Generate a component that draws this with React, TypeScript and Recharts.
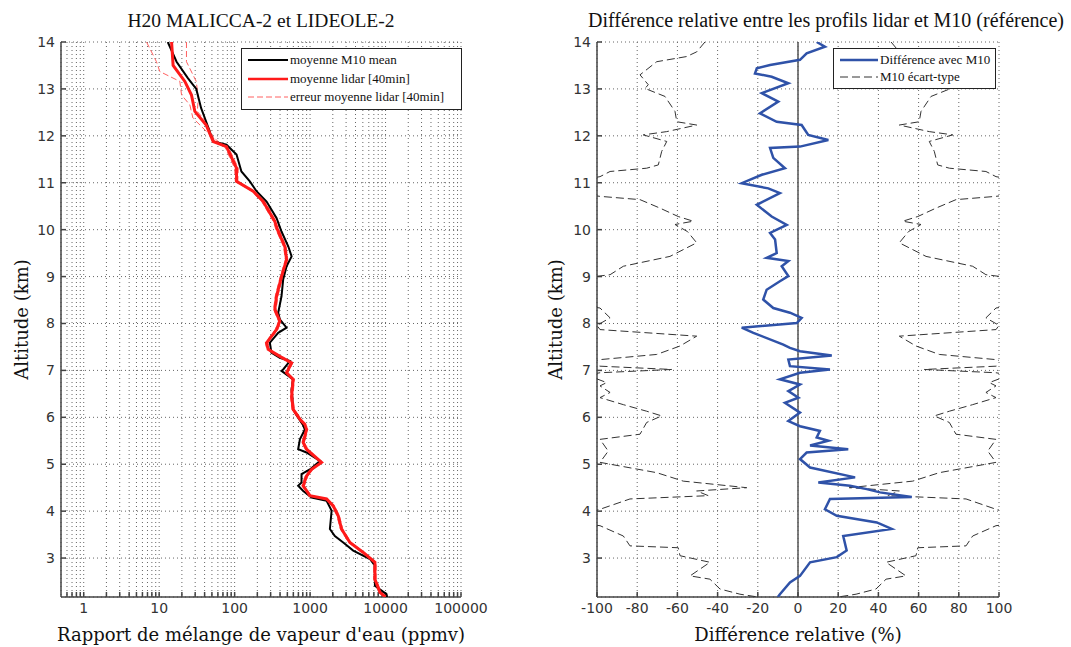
import React from 'react';
import { ScatterChart, Scatter, XAxis, YAxis, CartesianGrid, ReferenceLine, Legend } from 'recharts';

// [altitude km, value] pairs, read top to bottom off the figure
const m10Mean: [number, number][] = [
  [14.0, 13], [13.58, 17], [13.23, 24], [13.0, 31], [12.59, 36], [12.3, 42], [11.88, 52], [11.81, 78],
  [11.6, 106], [11.24, 123], [11.03, 159], [10.82, 195], [10.6, 265], [10.25, 359], [9.96, 418],
  [9.64, 515], [9.43, 569], [9.22, 488], [8.94, 440], [8.58, 418], [8.23, 378], [8.09, 397], [7.91, 488],
  [7.8, 378], [7.59, 293], [7.38, 307], [7.27, 397], [7.2, 540], [7.02, 440], [6.99, 418], [6.81, 597],
  [6.6, 569], [6.17, 597], [5.99, 695], [5.85, 800], [5.74, 853], [5.53, 733], [5.32, 695], [5.25, 897],
  [5.07, 1350], [4.89, 994], [4.79, 770], [4.61, 770], [4.54, 695], [4.43, 811], [4.29, 1048],
  [4.22, 1655], [4.01, 1930], [3.62, 1830], [3.47, 2130], [3.33, 2750], [3.16, 3730], [2.98, 6210],
  [2.84, 7230], [2.41, 7230], [2.23, 10300], [2.17, 10500],
];

const lidarMean: [number, number][] = [
  [14.0, 14.6], [13.5, 15.3], [13.16, 21.9], [12.87, 26.8], [12.52, 29.7], [12.23, 42], [11.88, 52],
  [11.77, 78], [11.31, 106], [11.03, 106], [10.82, 176], [10.6, 239], [10.18, 340], [10.0, 370],
  [9.64, 463], [9.36, 488], [9.0, 418], [8.58, 359], [8.3, 341], [8.05, 397], [7.87, 359], [7.59, 265],
  [7.45, 278], [7.3, 397], [7.16, 569], [6.95, 488], [6.81, 597], [6.45, 569], [6.17, 597], [5.96, 733],
  [5.85, 853], [5.74, 897], [5.46, 811], [5.32, 897], [5.04, 1419], [4.89, 1048], [4.75, 897],
  [4.54, 811], [4.33, 994], [4.26, 1655], [4.11, 2030], [3.9, 2360], [3.62, 2610], [3.33, 3370],
  [3.12, 5060], [2.91, 7230], [2.55, 7230], [2.27, 8430], [2.17, 10000],
];

const lidarErrLow: [number, number][] = [
  [14.0, 6.8], [13.58, 9.2], [13.37, 10.2], [13.16, 18.8], [12.87, 19.8], [12.66, 25.5], [12.38, 28],
  [12.02, 47], [11.77, 74], [11.31, 100], [11.03, 102], [10.82, 168], [10.6, 228], [10.18, 325],
  [10.0, 352], [9.64, 445], [9.36, 470], [9.0, 402], [8.58, 345], [8.3, 328], [8.05, 382], [7.87, 345],
  [7.59, 255], [7.45, 267], [7.3, 382], [7.16, 548], [6.95, 470], [6.81, 575], [6.45, 548], [6.17, 575],
  [5.96, 705], [5.74, 862], [5.46, 780], [5.32, 862], [5.04, 1365], [4.89, 1008], [4.75, 862],
  [4.54, 780], [4.33, 955], [4.26, 1590], [4.11, 1950], [3.9, 2270], [3.62, 2510], [3.33, 3240],
  [3.12, 4870], [2.91, 6950], [2.55, 6950], [2.27, 8110], [2.17, 9620],
];

const lidarErrHigh: [number, number][] = [
  [14.0, 23], [13.58, 23], [13.16, 31], [12.8, 33], [12.52, 32], [12.3, 42], [11.88, 55], [11.77, 82],
  [11.31, 112], [11.03, 110], [10.82, 184], [10.6, 250], [10.18, 374], [10.0, 388], [9.64, 482],
  [9.36, 507], [9.0, 435], [8.58, 374], [8.3, 355], [8.05, 413], [7.87, 374], [7.59, 276], [7.45, 289],
  [7.3, 413], [7.16, 592], [6.95, 507], [6.81, 620], [6.45, 592], [6.17, 620], [5.96, 762], [5.74, 932],
  [5.46, 843], [5.32, 932], [5.04, 1475], [4.89, 1090], [4.75, 932], [4.54, 843], [4.33, 1033],
  [4.26, 1720], [4.11, 2110], [3.9, 2450], [3.62, 2710], [3.33, 3500], [3.12, 5260], [2.91, 7510],
  [2.55, 7510], [2.27, 8760], [2.17, 10400],
];

// relative difference lidar vs M10 (%)
const diffM10: [number, number][] = [
  [14.0, 9.3], [13.9, 13.4], [13.76, 4.3], [13.62, 1.0], [13.51, -13.9], [13.44, -20.5], [13.33, -21.4],
  [13.26, -13.1], [13.12, -4.8], [12.91, -18], [12.73, -9.8], [12.48, -18.9], [12.3, -10.6], [12.23, 1.8],
  [12.02, 5.1], [11.91, 15.1], [11.77, 1.0], [11.74, -13.9], [11.53, -12.3], [11.31, -6.5], [11.17, -18],
  [10.99, -28], [10.88, -14.8], [10.78, -9.0], [10.53, -20.5], [10.28, -13.1], [10.1, -5.6], [9.93, -13.9],
  [9.79, -11.4], [9.5, -10.6], [9.4, -15.6], [9.33, -4.8], [9.22, -8.1], [9.01, -4.8], [8.9, -9.0],
  [8.72, -15.6], [8.51, -17.3], [8.33, -12.3], [8.23, -4.0], [8.12, 1.8], [8.01, -0.6], [7.91, -28],
  [7.8, -22.2], [7.55, -7.3], [7.48, -4.0], [7.41, 1.0], [7.32, 16.8], [7.23, -4.8], [7.09, -4.0],
  [7.02, 15.9], [6.95, 1.0], [6.81, -9.0], [6.7, 1.0], [6.56, -4.8], [6.42, 0.2], [6.31, -6.5], [6.1, 1.0],
  [5.92, -4.8], [5.81, 1.0], [5.71, 10.9], [5.57, 9.3], [5.5, 15.1], [5.4, 6.0], [5.32, 25], [5.25, 4.3],
  [5.11, 1.0], [4.93, 6.0], [4.72, 28.4], [4.61, 10.1], [4.54, 25.9], [4.47, 34.2], [4.4, 40.8],
  [4.3, 56.6], [4.26, 15.9], [4.04, 13.4], [3.9, 19.3], [3.76, 39.2], [3.62, 46.6], [3.47, 22.5],
  [3.16, 24.2], [3.02, 19.3], [2.91, 6.0], [2.62, 1.0], [2.48, -4.0], [2.23, -9.0], [2.17, -10],
];

// M10 standard deviation (%), drawn as +/- envelope
const m10Std: [number, number][] = [
  [14.0, 46.3], [13.79, 50.4], [13.69, 55.4], [13.58, 70.3], [13.3, 78.6], [13.09, 74.5], [13.01, 76.1],
  [12.84, 66.2], [12.52, 61.2], [12.3, 60.3], [12.23, 50.4], [12.09, 65.3], [12.02, 77], [11.88, 65.3],
  [11.67, 67.8], [11.38, 69.5], [11.31, 75.3], [11.24, 93.5], [11.13, 98.5], [11.0, 115], [10.8, 115],
  [10.71, 98.5], [10.64, 78.6], [10.46, 68.7], [10.28, 59.6], [10.18, 52.1], [10.11, 61.2], [9.96, 55],
  [9.72, 50.4], [9.43, 63.7], [9.22, 86.9], [9.04, 93.5], [8.95, 110], [8.4, 110], [8.33, 98.5],
  [8.12, 93.5], [7.96, 100], [7.87, 98.5], [7.73, 50.4], [7.52, 58.7], [7.34, 70.3], [7.23, 98.5],
  [7.15, 105], [7.09, 98.5], [7.02, 62.8], [6.95, 98.5], [6.9, 105], [6.74, 95.2], [6.67, 98.5],
  [6.53, 93.5], [6.42, 98.5], [6.27, 86.9], [6.13, 75.3], [6.03, 67.8], [5.89, 75.3], [5.64, 78.6],
  [5.53, 98.5], [5.28, 94.4], [5.04, 98.5], [4.82, 70.3], [4.64, 57.1], [4.5, 25.5], [4.43, 50.4],
  [4.33, 44.6], [4.26, 83.6], [4.04, 98.5], [3.9, 110], [3.75, 110], [3.69, 98.5], [3.47, 86.9],
  [3.26, 83.6], [3.22, 59.6], [3.05, 58.7], [2.91, 43.8], [2.62, 53.7], [2.55, 43.8], [2.34, 38.8],
  [2.23, 28.9], [2.17, 20],
];

const altTicks = [3, 4, 5, 6, 7, 8, 9, 10, 11, 12, 13, 14];
const decadeTicks = [1, 10, 100, 1000, 10000, 100000];
const minorSteps = [2, 3, 4, 5, 6, 7, 8, 9];
const diffTicks = [-100, -80, -60, -40, -20, 0, 20, 40, 60, 80, 100];

const ALT_DOMAIN: [number, number] = [2.17, 14];
const LOG_DOMAIN: [number, number] = [0.5, 100000];

const logTicks = [
  ...decadeTicks,
  ...[0.1, 1, 10, 100, 1000, 10000].flatMap((d) => minorSteps.map((m) => +(d * m).toPrecision(3))),
].filter((v) => v > LOG_DOMAIN[0] && v <= LOG_DOMAIN[1]).sort((a, b) => a - b);

const toPts = (arr: [number, number][], sign = 1) => arr.map(([alt, v]) => ({ alt, v: v * sign }));

const SERIF = '"Liberation Serif", "Times New Roman", serif';
const LABEL_SERIF = '"DejaVu Serif", serif';
const SANS = '"DejaVu Sans", sans-serif';
const AXIS = '#444';
const noDot = () => <g />;
const noTick = () => <g />;

const LogTick = (props: any) => {
  const { x, y, payload } = props;
  if (!decadeTicks.includes(payload.value)) return <g />;
  return (
    <text x={x} y={y} dy="0.71em" textAnchor="middle" fontFamily={SANS} fontSize={14} fill="#333">
      {payload.value}
    </text>
  );
};

const leftLegendItems = [
  { label: 'moyenne M10 mean', color: '#000', width: 2, dash: undefined },
  { label: 'moyenne lidar [40min]', color: '#ff1a1a', width: 2.5, dash: undefined },
  { label: 'erreur moyenne lidar [40min]', color: '#ff6060', width: 1, dash: '6 3' },
];
const rightLegendItems = [
  { label: 'Différence avec M10', color: '#2f52a8', width: 2.5, dash: undefined },
  { label: 'M10 écart-type', color: '#333', width: 1, dash: '8 4' },
];

const LegendBox = ({ items, sample, rowH }: { items: typeof leftLegendItems; sample: number; rowH: number }) => (
  <div style={{ border: '1px solid #222', background: '#fff', padding: '2px 4px 2px 6px', fontFamily: SERIF, fontSize: 13, color: '#111' }}>
    {items.map((it) => (
      <div key={it.label} style={{ display: 'flex', alignItems: 'center', height: rowH, whiteSpace: 'nowrap' }}>
        <svg width={sample} height={8} style={{ marginRight: 2 }}>
          <line x1={0} y1={4} x2={sample} y2={4} stroke={it.color} strokeWidth={it.width} strokeDasharray={it.dash} />
        </svg>
        <span>{it.label}</span>
      </div>
    ))}
  </div>
);

const gridProps = { stroke: '#666', strokeDasharray: '1 3' };
const tickStyle = { fontFamily: SANS, fontSize: 14, fill: '#333' };
const axisLabel = { fill: '#111', fontSize: 18, fontFamily: LABEL_SERIF };

const App: React.FC = () => {
  return (
    <div style={{ position: 'absolute', left: 0, top: 0, width: 1071, height: 647, background: '#fff' }}>
      <div style={{ position: 'absolute', left: 0, top: 0 }}>
        <ScatterChart width={535} height={647} margin={{ top: 42, right: 74, bottom: 0, left: 0 }}>
          <CartesianGrid {...gridProps} />
          <XAxis
            type="number" dataKey="v" scale="log" domain={LOG_DOMAIN} allowDataOverflow ticks={logTicks}
            height={50} tickSize={-5} tickMargin={11} tick={LogTick} stroke={AXIS} strokeWidth={1.5} interval={0}
            label={{ value: "Rapport de mélange de vapeur d'eau (ppmv)", position: 'insideBottom', offset: 6, ...axisLabel }}
          />
          <XAxis xAxisId="top" orientation="top" type="number" scale="log" domain={LOG_DOMAIN} allowDataOverflow
            ticks={logTicks} height={0} tickSize={-5} tick={noTick} stroke={AXIS} strokeWidth={1.5} interval={0} />
          <YAxis
            type="number" dataKey="alt" domain={ALT_DOMAIN} allowDataOverflow ticks={altTicks} width={61}
            tickSize={-5} tickMargin={11} tick={tickStyle} stroke={AXIS} strokeWidth={1.5} interval={0}
            label={{ value: 'Altitude (km)', angle: -90, position: 'insideLeft', offset: 22, ...axisLabel, style: { textAnchor: 'middle' } }}
          />
          <YAxis yAxisId="right" orientation="right" type="number" domain={ALT_DOMAIN} allowDataOverflow
            ticks={altTicks} width={0} tickSize={-5} tick={noTick} stroke={AXIS} strokeWidth={1.5} interval={0} />
          <Scatter data={toPts(lidarErrLow)} fill="#ff6060" shape={noDot} isAnimationActive={false}
            line={{ stroke: '#ff6060', strokeWidth: 1, strokeDasharray: '6 3' }} />
          <Scatter data={toPts(lidarErrHigh)} fill="#ff6060" shape={noDot} isAnimationActive={false}
            line={{ stroke: '#ff6060', strokeWidth: 1, strokeDasharray: '6 3' }} />
          <Scatter data={toPts(m10Mean)} fill="#000" shape={noDot} isAnimationActive={false}
            line={{ stroke: '#000', strokeWidth: 2 }} />
          <Scatter data={toPts(lidarMean)} fill="#ff1a1a" shape={noDot} isAnimationActive={false}
            line={{ stroke: '#ff1a1a', strokeWidth: 3 }} />
          <Legend layout="vertical" align="center" verticalAlign="middle"
            wrapperStyle={{ top: 48, left: 241, width: 221 }}
            content={() => <LegendBox items={leftLegendItems} sample={40} rowH={18.5} />} />
          <text x={261} y={27} textAnchor="middle" fontFamily={SERIF} fontSize={19.5} fill="#111">
            H20 MALICCA-2 et LIDEOLE-2
          </text>
        </ScatterChart>
      </div>

      <div style={{ position: 'absolute', left: 535, top: 0 }}>
        <ScatterChart width={536} height={647} margin={{ top: 42, right: 72, bottom: 0, left: 0 }}>
          <CartesianGrid {...gridProps} />
          <XAxis
            type="number" dataKey="v" domain={[-100, 100]} allowDataOverflow ticks={diffTicks}
            height={50} tickSize={-5} tickMargin={11} tick={tickStyle} stroke={AXIS} strokeWidth={1.5} interval={0}
            label={{ value: 'Différence relative (%)', position: 'insideBottom', offset: 6, ...axisLabel }}
          />
          <XAxis xAxisId="top" orientation="top" type="number" domain={[-100, 100]} allowDataOverflow
            ticks={diffTicks} height={0} tickSize={-5} tick={noTick} stroke={AXIS} strokeWidth={1.5} interval={0} />
          <YAxis
            type="number" dataKey="alt" domain={ALT_DOMAIN} allowDataOverflow ticks={altTicks} width={62}
            tickSize={-5} tickMargin={11} tick={tickStyle} stroke={AXIS} strokeWidth={1.5} interval={0}
            label={{ value: 'Altitude (km)', angle: -90, position: 'insideLeft', offset: 21, ...axisLabel, style: { textAnchor: 'middle' } }}
          />
          <YAxis yAxisId="right" orientation="right" type="number" domain={ALT_DOMAIN} allowDataOverflow
            ticks={altTicks} width={0} tickSize={-5} tick={noTick} stroke={AXIS} strokeWidth={1.5} interval={0} />
          <ReferenceLine x={0} stroke="#555" strokeWidth={1.5} />
          <Scatter data={toPts(m10Std, -1)} fill="#333" shape={noDot} isAnimationActive={false}
            line={{ stroke: '#333', strokeWidth: 1, strokeDasharray: '8 4' }} />
          <Scatter data={toPts(m10Std)} fill="#333" shape={noDot} isAnimationActive={false}
            line={{ stroke: '#333', strokeWidth: 1, strokeDasharray: '8 4' }} />
          <Scatter data={toPts(diffM10)} fill="#2f52a8" shape={noDot} isAnimationActive={false}
            line={{ stroke: '#2f52a8', strokeWidth: 2.5 }} />
          <Legend layout="vertical" align="center" verticalAlign="middle"
            wrapperStyle={{ top: 48, left: 298, width: 163 }}
            content={() => <LegendBox items={rightLegendItems} sample={38} rowH={17.5} />} />
          <text x={291} y={27} textAnchor="middle" fontFamily={SERIF} fontSize={20} fill="#111">
            Différence relative entre les profils lidar et M10 (référence)
          </text>
        </ScatterChart>
      </div>
    </div>
  );
};

export default App;
